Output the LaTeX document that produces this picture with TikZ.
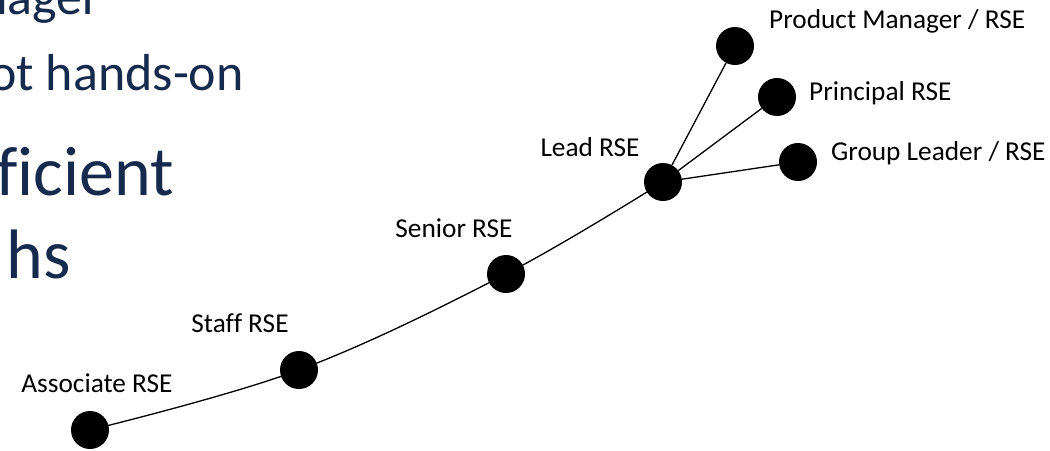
\documentclass[tikz,border=0pt]{standalone}
\usepackage{fontspec}
\setmainfont{Carlito}[Ligatures=NoCommon]
\definecolor{slidenavy}{RGB}{22,42,78}
\tikzset{
  dot/.style={circle, fill=black, minimum size=38pt, inner sep=0pt},
  rank/.style={font=\fontsize{27.3}{32}\selectfont, inner sep=0pt, anchor=base},
  slidetext/.style={text=slidenavy, inner sep=0pt, anchor=base east},
}
\begin{document}
\begin{tikzpicture}[x=1pt, y=-1pt]
  \useasboundingbox (0,0) rectangle (1050,450);
  \clip (0,0) rectangle (1050,450);
  % cut-off slide text on the left
  \node[slidetext, font=\fontsize{52}{60}\selectfont] (txtone) at (101,14) {nager};
  \node[slidetext, font=\fontsize{52}{60}\selectfont] (txttwo) at (244,90) {ot hands-on};
  \node[slidetext, font=\fontsize{70}{80}\selectfont] (txtthree) at (174,195) {ficient};
  \node[slidetext, font=\fontsize{70}{80}\selectfont] (txtfour) at (71,278) {hs};
  % career steps
  \node[dot] (assoc) at (90,430) {};
  \node[dot] (staff) at (299,370) {};
  \node[dot] (senior) at (506,274) {};
  \node[dot] (lead) at (663,182) {};
  \node[dot] (prodmgr) at (735,46) {};
  \node[dot] (principal) at (777,97) {};
  \node[dot] (groupldr) at (798,162) {};
  \draw[line width=1.3pt] plot[smooth, tension=0.6] coordinates {(assoc) (staff) (senior) (lead)};
  \draw[line width=1.3pt] (lead) -- (prodmgr);
  \draw[line width=1.3pt] (lead) -- (principal);
  \draw[line width=1.3pt] (lead) -- (groupldr);
  % labels
  \node[rank] (assoclbl) at (97,392) {Associate RSE};
  \node[rank] (stafflbl) at (240,332) {Staff RSE};
  \node[rank] (seniorlbl) at (454,237) {Senior RSE};
  \node[rank] (leadlbl) at (590,156) {Lead RSE};
  \node[rank, anchor=base west] (prodmgrlbl) at (769,28) {Product Manager / RSE};
  \node[rank, anchor=base west] (principallbl) at (809,100) {Principal RSE};
  \node[rank, anchor=base west] (groupldrlbl) at (831,160) {Group Leader / RSE};
\end{tikzpicture}
\end{document}
